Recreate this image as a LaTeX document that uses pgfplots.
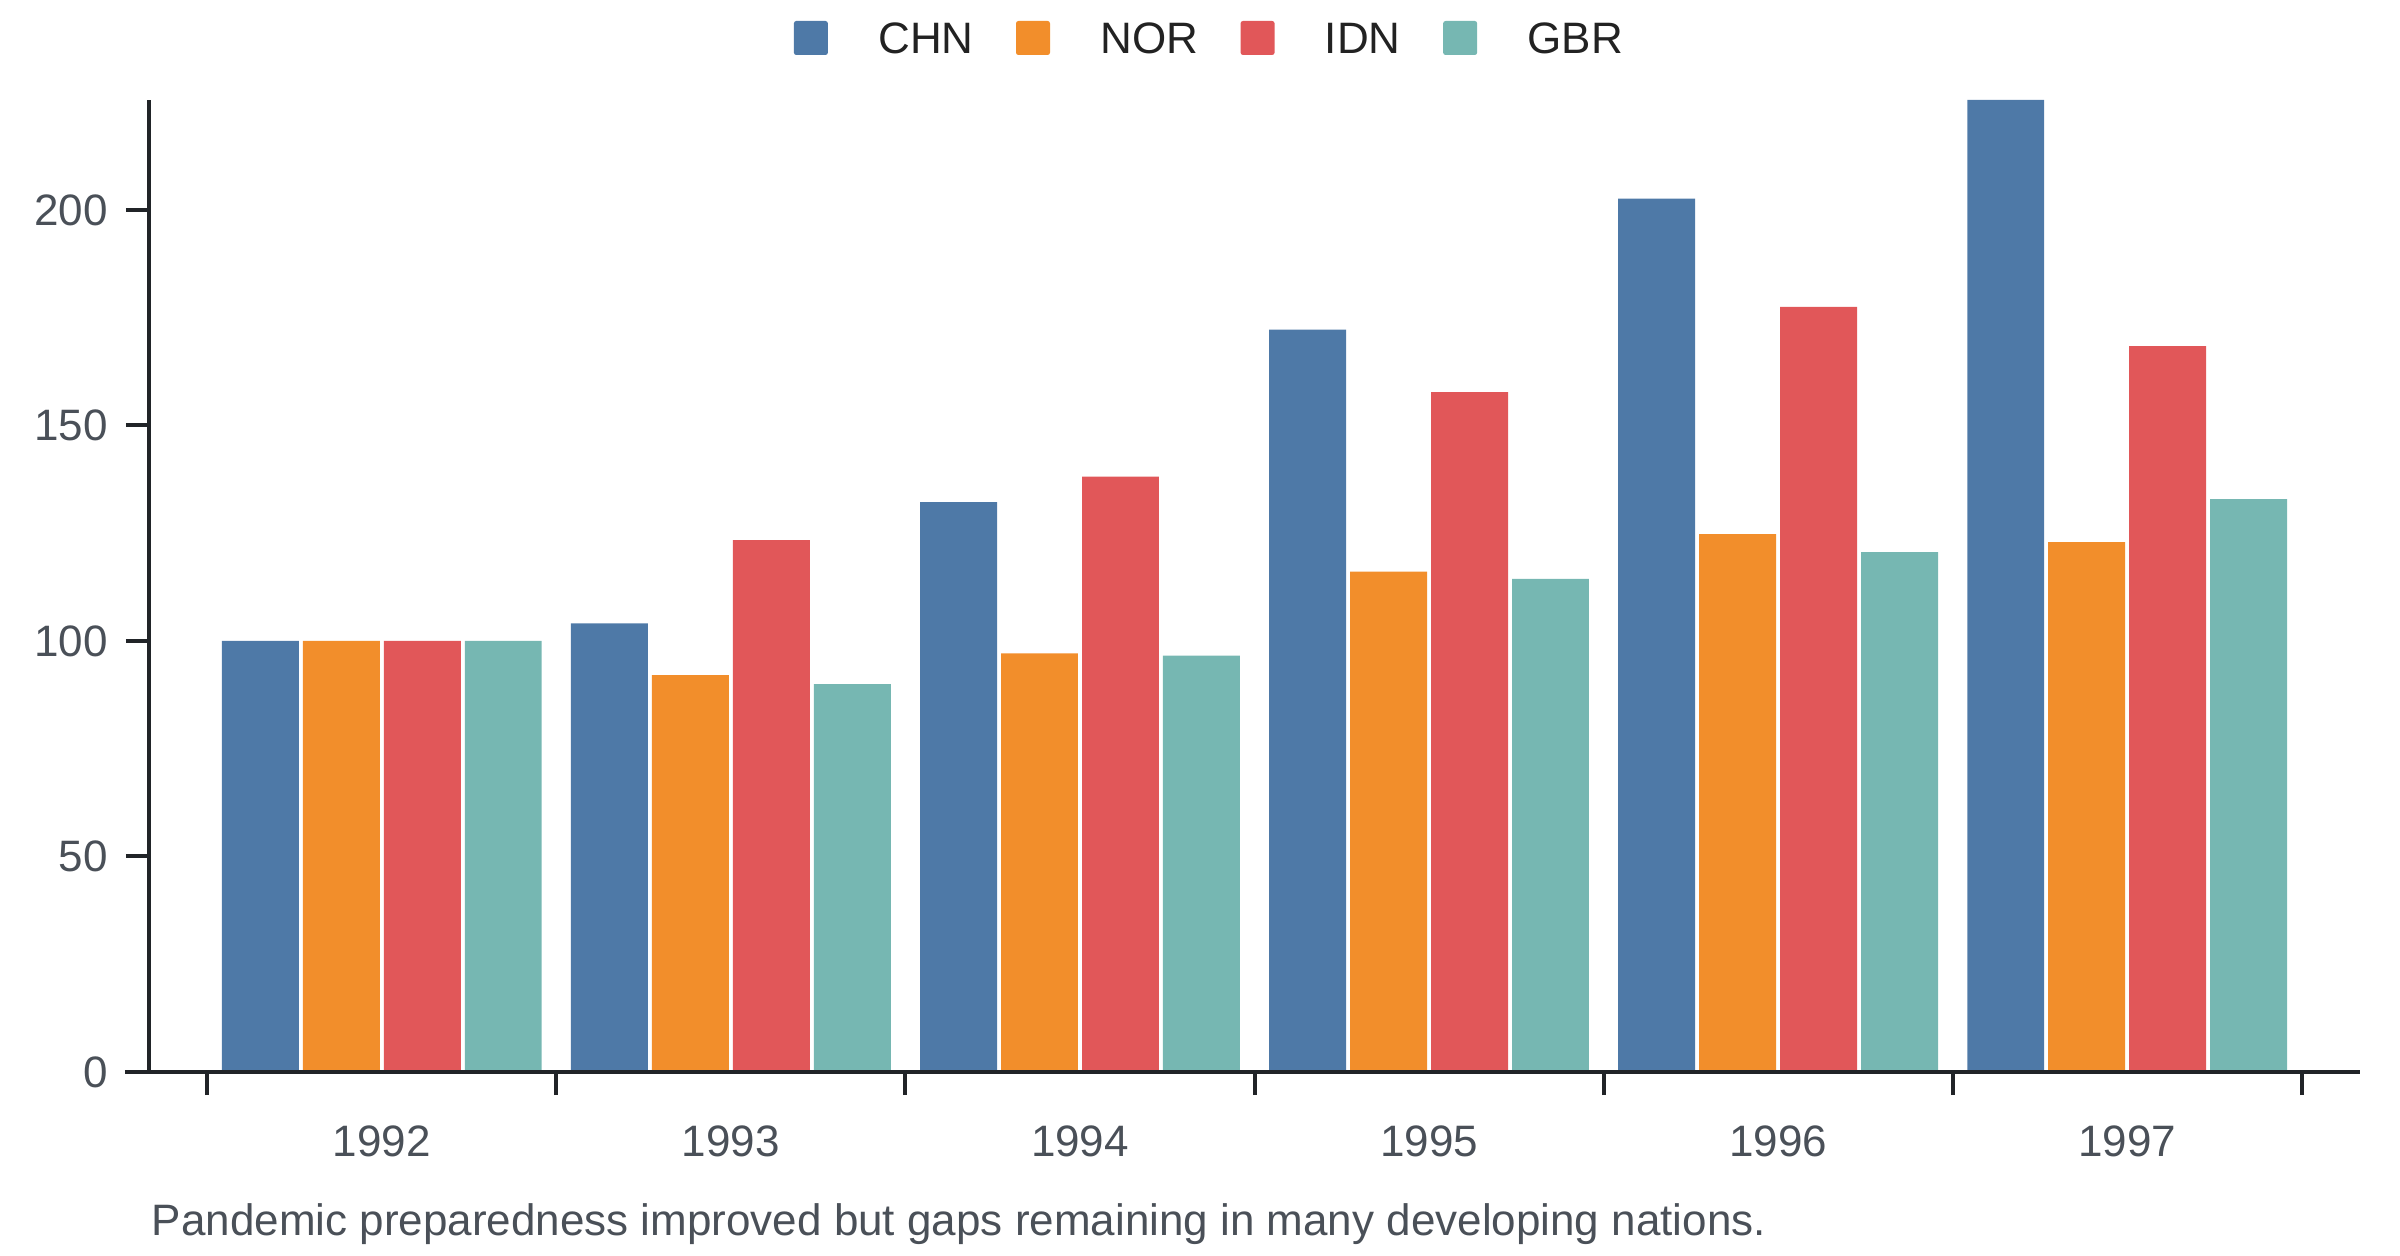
\documentclass[border=0pt]{standalone}
\usepackage{fontspec}
\setmainfont{Liberation Sans}
\usepackage{pgfplots}
\pgfplotsset{compat=1.18}
\definecolor{cCHN}{HTML}{4E79A7}
\definecolor{cNOR}{HTML}{F28E2B}
\definecolor{cIDN}{HTML}{E15759}
\definecolor{cGBR}{HTML}{76B7B2}
\definecolor{axcol}{HTML}{212428}
\definecolor{tickcol}{HTML}{4A5058}
\definecolor{legcol}{HTML}{222222}
\begin{document}
\fontsize{11bp}{13.2bp}\selectfont
\begin{tikzpicture}
\begin{axis}[name=ax, at={(0,0)}, anchor=south west,
  scale only axis, width=552.75bp, height=243bp,
  xmin=-0.667, xmax=5.667, ymin=0, ymax=225.5,
  axis x line*=bottom, axis y line*=left,
  x axis line style={draw=none},
  y axis line style={line width=1bp, axcol},
  tick align=outside, major tick length=5.75bp,
  tick style={line width=1bp, axcol},
  xtick={-0.5,0.5,...,5.5}, xticklabels={},
  extra x ticks={0,1,2,3,4,5},
  extra x tick labels={1992,1993,1994,1995,1996,1997},
  extra x tick style={tick style={draw=none}},
  ytick={0,50,100,150,200},
  /pgf/number format/assume math mode=true,
  tick label style={text=tickcol, font=\fontsize{11bp}{13.2bp}\selectfont},
  xticklabel style={yshift=-3.85bp},
  yticklabel style={xshift=-0.75bp},
  legend columns=4,
  legend image code/.code={\fill[#1, rounded corners=0.6bp] (0bp,-4.25bp) rectangle (8.5bp,4.25bp);},
  legend style={draw=none, fill=none, inner xsep=0pt, inner ysep=0pt,
    nodes={inner sep=0pt, text depth=0pt}, text=legcol,
    font=\fontsize{11bp}{13.2bp}\selectfont,
    at={(axis description cs:0.2913,1)}, anchor=west, yshift=15.5bp,
    /tikz/every odd column/.append style={column sep=12.6bp},
    /tikz/every even column/.append style={column sep=10.6bp}},
]
\addplot[ybar, fill=cCHN, draw=none, bar width=0.2204, bar shift=-0.3479]
  coordinates {(0,100) (1,104.1) (2,132.2) (3,172.2) (4,202.6) (5,225.5)};
\addplot[ybar, fill=cNOR, draw=none, bar width=0.2204, bar shift=-0.1160]
  coordinates {(0,100) (1,92.1) (2,97.1) (3,116.1) (4,124.8) (5,122.9)};
\addplot[ybar, fill=cIDN, draw=none, bar width=0.2204, bar shift=0.1160]
  coordinates {(0,100) (1,123.4) (2,138.1) (3,157.7) (4,177.5) (5,168.4)};
\addplot[ybar, fill=cGBR, draw=none, bar width=0.2204, bar shift=0.3479]
  coordinates {(0,100) (1,90.0) (2,96.6) (3,114.4) (4,120.6) (5,132.9)};
\legend{CHN,NOR,IDN,GBR}
\end{axis}
\draw[line width=1bp, axcol] (-6bp,0) -- (552.75bp,0);
\node[anchor=base west, inner sep=0pt, text=tickcol] at (0.5bp,-40.75bp)
  {Pandemic preparedness improved but gaps remaining in many developing nations.};
\pgfresetboundingbox
\path[use as bounding box] (-37.25bp,-46bp) rectangle (562.75bp,268bp);
\end{tikzpicture}
\end{document}
